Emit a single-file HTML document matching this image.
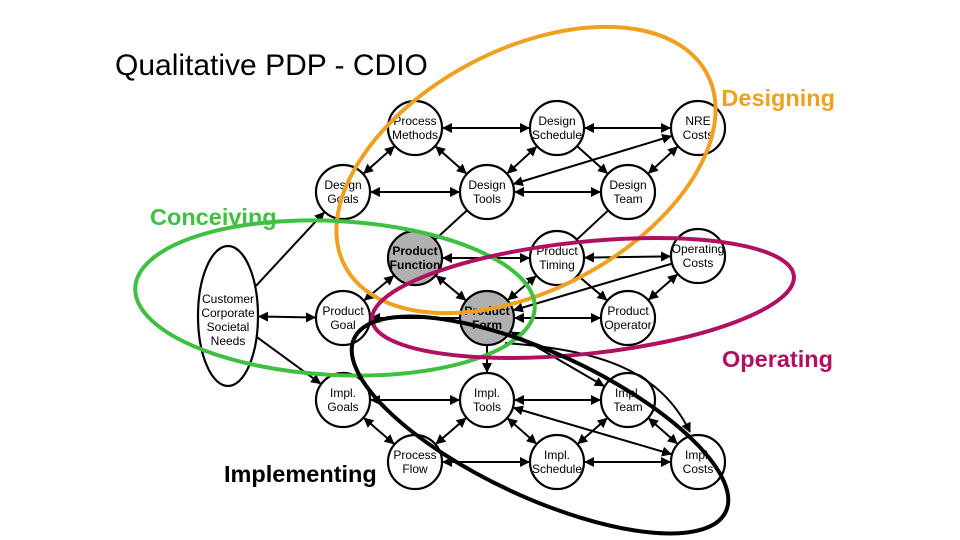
<!DOCTYPE html>
<html><head><meta charset="utf-8"><style>
body{margin:0;background:#fff;overflow:hidden}
svg{display:block}
.n{fill:#fff;stroke:#000;stroke-width:2.2}
.g{fill:#b0b0b0;stroke:#000;stroke-width:2.2}
.t{font-family:"Liberation Sans",sans-serif;font-size:12px;text-anchor:middle}
.tb{font-family:"Liberation Sans",sans-serif;font-size:12px;font-weight:bold;text-anchor:middle}
.e{stroke:#000;stroke-width:2;fill:none}
.lb{font-family:"Liberation Sans",sans-serif;font-size:23.5px;font-weight:bold}
</style></head><body>
<svg width="960" height="540" viewBox="0 0 960 540" xmlns="http://www.w3.org/2000/svg">
<defs>
<marker id="a" viewBox="0 0 10 10" refX="9" refY="5" markerWidth="5" markerHeight="5" orient="auto-start-reverse"><path d="M0,0L10,5L0,10z"/></marker>
</defs>
<text x="115" y="75" font-family="Liberation Sans, sans-serif" font-size="30">Qualitative PDP - CDIO</text>
<text x="835" y="106" text-anchor="end" class="lb" fill="#f0a020">Designing</text>
<text x="150" y="225" class="lb" fill="#40c040">Conceiving</text>
<text x="833" y="367" text-anchor="end" class="lb" fill="#b01060">Operating</text>
<text x="224" y="482" class="lb">Implementing</text>
<g id="edges"></g>
<g id="nodes"></g>
<path d="M505,343 C600,350 660,370 690,432" class="e" marker-end="url(#a)"/>
<ellipse cx="526" cy="170" rx="205" ry="120" transform="rotate(-28 526 170)" fill="none" stroke="#f0a020" stroke-width="4"/>
<ellipse cx="335" cy="298" rx="200" ry="77" transform="rotate(3 335 298)" fill="none" stroke="#40c040" stroke-width="4"/>
<ellipse cx="583" cy="298" rx="212" ry="56" transform="rotate(-6 583 298)" fill="none" stroke="#b01060" stroke-width="4"/>
<ellipse cx="540" cy="425" rx="205" ry="72" transform="rotate(25 540 425)" fill="none" stroke="#000" stroke-width="4"/>
</svg>
<script>
const N={PM:[415,128,"Process","Methods"],DS:[557,128,"Design","Schedule"],NRE:[698,128,"NRE","Costs"],
DG:[343,192,"Design","Goals"],DT:[487,192,"Design","Tools"],DTm:[628,192,"Design","Team"],
PF:[415,258,"Product","Function",1],PT:[557,258,"Product","Timing"],OC:[698,256,"Operating","Costs"],
PG:[343,318,"Product","Goal"],PFo:[487,318,"Product","Form",1],PO:[628,318,"Product","Operator"],
IG:[343,400,"Impl.","Goals"],IT:[487,400,"Impl.","Tools"],ITm:[628,400,"Impl.","Team"],
PFl:[415,462,"Process","Flow"],IS:[557,462,"Impl.","Schedule"],IC:[698,462,"Impl.","Costs"],
C:[228,316,"Customer","Corporate","x"]};
const E=[["PM","DS",2],["DS","NRE",2],["PM","DG",2],["PM","DT",2],["DS","DT",2],["NRE","DT",2],["DS","DTm",1],["NRE","DTm",2],
["DG","DT",2],["DT","DTm",2],["DT","PF",0],["PF","PT",2],["PT","OC",2],["PF","PFo",2],["PT","PFo",2],["OC","PFo",1],["PT","PO",1],["OC","PO",2],["PFo","PO",2],
["C","DG",1],["C","PG",2],["C","IG",1],["PG","PF",2],["PFo","PG",1],["PFo","IT",1],["PFo","ITm",2],
["IG","IT",2],["IT","ITm",2],["IG","PFl",2],["IT","PFl",2],["IT","IS",2],["ITm","IS",2],["ITm","IC",2],["IT","IC",2],["PFl","IS",2],["IS","IC",2],["DTm","PT",0]];
const ns="http://www.w3.org/2000/svg",ge=document.getElementById("edges"),gn=document.getElementById("nodes");
function rad(k,dx,dy){if(k=="C"){const a=Math.atan2(dy,dx);return 1/Math.sqrt(Math.pow(Math.cos(a)/31,2)+Math.pow(Math.sin(a)/71,2));}return 28;}
E.forEach(([a,b,t])=>{const A=N[a],B=N[b];const dx=B[0]-A[0],dy=B[1]-A[1],d=Math.hypot(dx,dy);
const ra=rad(a,dx,dy),rb=rad(b,dx,dy);const l=document.createElementNS(ns,"line");
l.setAttribute("x1",A[0]+dx/d*ra);l.setAttribute("y1",A[1]+dy/d*ra);l.setAttribute("x2",B[0]-dx/d*rb);l.setAttribute("y2",B[1]-dy/d*rb);
l.setAttribute("class","e");if(t>=1)l.setAttribute("marker-end","url(#a)");if(t==2)l.setAttribute("marker-start","url(#a)");ge.appendChild(l);});
for(const k in N){const v=N[k];let s;
if(k=="C"){s=document.createElementNS(ns,"ellipse");s.setAttribute("cx",v[0]);s.setAttribute("cy",v[1]);s.setAttribute("rx",30);s.setAttribute("ry",70);s.setAttribute("class","n");gn.appendChild(s);
["Customer","Corporate","Societal","Needs"].forEach((w,i)=>{const t=document.createElementNS(ns,"text");t.setAttribute("x",v[0]);t.setAttribute("y",303+i*14);t.setAttribute("class","t");t.textContent=w;gn.appendChild(t);});continue;}
s=document.createElementNS(ns,"circle");s.setAttribute("cx",v[0]);s.setAttribute("cy",v[1]);s.setAttribute("r",27);s.setAttribute("class",v[4]?"g":"n");gn.appendChild(s);
[v[2],v[3]].forEach((w,i)=>{const t=document.createElementNS(ns,"text");t.setAttribute("x",v[0]);t.setAttribute("y",v[1]-3+i*14);t.setAttribute("class",v[4]?"tb":"t");t.textContent=w;gn.appendChild(t);});}
</script>
</body></html>
